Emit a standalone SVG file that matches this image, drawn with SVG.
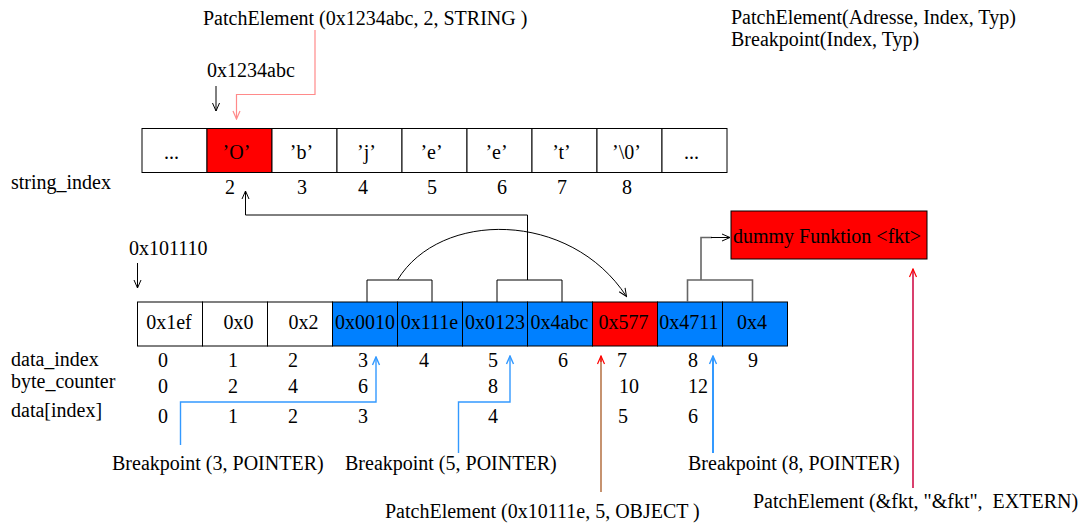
<svg xmlns="http://www.w3.org/2000/svg" width="1085" height="524" viewBox="0 0 1085 524">
  <style>
    text { font-family: "Liberation Serif", "Times New Roman", serif; font-size: 20px; fill: #000; white-space: pre; }
    .c { text-anchor: middle; }
    .cell { stroke: #000; stroke-width: 1; }
    .scell { stroke: #333; stroke-width: 1.3; }
    .wht { fill: #fff; }
    .blue { fill: #0080ff; }
    .red { fill: #ff0000; }
    .ln { fill: none; stroke: #000; stroke-width: 1; }
    .grey { fill: none; stroke: #666; stroke-width: 1.6; }
    .pink { fill: none; stroke: #ff8a8a; stroke-width: 1.2; }
    .bl { fill: none; stroke: #3399ff; stroke-width: 1.4; }
    .bl2 { fill: none; stroke: #3399ff; stroke-width: 2; }
    .brn { fill: none; stroke: #a04a10; stroke-width: 1.2; }
    .crim { fill: none; stroke: #d0104a; stroke-width: 1.6; }
  </style>
  <defs>
    <marker id="ahBlack" viewBox="-10 -5 11 10" refX="0" refY="0" markerWidth="11" markerHeight="10" markerUnits="userSpaceOnUse" orient="auto">
      <path d="M-8,-3.5 L0,0 L-8,3.5" fill="none" stroke="#000" stroke-width="1"/>
    </marker>
    <marker id="ahPink" viewBox="-10 -5 11 10" refX="0" refY="0" markerWidth="11" markerHeight="10" markerUnits="userSpaceOnUse" orient="auto">
      <path d="M-8,-3.5 L0,0 L-8,3.5" fill="none" stroke="#ff8a8a" stroke-width="1.2"/>
    </marker>
    <marker id="ahBlue" viewBox="-10 -5 11 10" refX="0" refY="0" markerWidth="11" markerHeight="10" markerUnits="userSpaceOnUse" orient="auto">
      <path d="M-8,-3.5 L0,0 L-8,3.5" fill="none" stroke="#3399ff" stroke-width="1.4"/>
    </marker>
    <marker id="ahRed" viewBox="-10 -5 11 10" refX="0" refY="0" markerWidth="11" markerHeight="10" markerUnits="userSpaceOnUse" orient="auto">
      <path d="M-8,-3.5 L0,0 L-8,3.5" fill="none" stroke="#ff0000" stroke-width="1.2"/>
    </marker>
  </defs>

  <!-- legend -->
  <g id="legend">
    <text x="731" y="24">PatchElement(Adresse, Index, Typ)</text>
    <text x="731" y="46">Breakpoint(Index, Typ)</text>
  </g>

  <!-- string table -->
  <g id="string-row">
    <g id="s0"><rect class="cell wht" x="142" y="128.5" width="65" height="44"/><text class="c" x="171.5" y="159">...</text></g>
    <g id="s1"><rect class="cell red" x="207" y="128.5" width="65" height="44"/><text class="c" x="236.5" y="159">’O’</text></g>
    <g id="s2"><rect class="cell wht" x="272" y="128.5" width="65" height="44"/><text class="c" x="301.5" y="159">’b’</text></g>
    <g id="s3"><rect class="cell wht" x="337" y="128.5" width="65" height="44"/><text class="c" x="366.5" y="159">’j’</text></g>
    <g id="s4"><rect class="cell wht" x="402" y="128.5" width="65" height="44"/><text class="c" x="431.5" y="159">’e’</text></g>
    <g id="s5"><rect class="cell wht" x="467" y="128.5" width="65" height="44"/><text class="c" x="496.5" y="159">’e’</text></g>
    <g id="s6"><rect class="cell wht" x="532" y="128.5" width="65" height="44"/><text class="c" x="561.5" y="159">’t’</text></g>
    <g id="s7"><rect class="cell wht" x="597" y="128.5" width="65" height="44"/><text class="c" x="626.5" y="159">’\0’</text></g>
    <g id="s8"><rect class="cell wht" x="662" y="128.5" width="65" height="44"/><text class="c" x="691.5" y="159">...</text></g>
  </g>
  <g id="string-index">
    <text x="11" y="189">string_index</text>
    <text class="c" x="230" y="194">2</text>
    <text class="c" x="302" y="194">3</text>
    <text class="c" x="363" y="194">4</text>
    <text class="c" x="432" y="194">5</text>
    <text class="c" x="502" y="194">6</text>
    <text class="c" x="562" y="194">7</text>
    <text class="c" x="627" y="194">8</text>
  </g>

  <!-- data table -->
  <g id="data-row">
    <g id="d0"><rect class="cell wht" x="137.5" y="302" width="65" height="44"/><text class="c" x="169" y="329">0x1ef</text></g>
    <g id="d1"><rect class="cell wht" x="202.5" y="302" width="65" height="44"/><text class="c" x="238.5" y="329">0x0</text></g>
    <g id="d2"><rect class="cell wht" x="267.5" y="302" width="65" height="44"/><text class="c" x="303.5" y="329">0x2</text></g>
    <g id="d3"><rect class="cell blue" x="332.5" y="302" width="65" height="44"/><text class="c" x="365" y="329">0x0010</text></g>
    <g id="d4"><rect class="cell blue" x="397.5" y="302" width="65" height="44"/><text class="c" x="429.5" y="329">0x111e</text></g>
    <g id="d5"><rect class="cell blue" x="462.5" y="302" width="65" height="44"/><text class="c" x="495" y="329">0x0123</text></g>
    <g id="d6"><rect class="cell blue" x="527.5" y="302" width="65" height="44"/><text class="c" x="559.5" y="329">0x4abc</text></g>
    <g id="d7"><rect class="cell red" x="592.5" y="302" width="65" height="44"/><text class="c" x="623.5" y="329">0x577</text></g>
    <g id="d8"><rect class="cell blue" x="657.5" y="302" width="65" height="44"/><text class="c" x="689" y="329">0x4711</text></g>
    <g id="d9"><rect class="cell blue" x="722.5" y="302" width="65" height="44"/><text class="c" x="752" y="329">0x4</text></g>
  </g>

  <g id="dummy">
    <rect class="cell red" x="731" y="211" width="196" height="48"/>
    <text x="733" y="243">dummy Funktion &lt;fkt&gt;</text>
  </g>

  <!-- row captions and values -->
  <g id="tables">
    <text x="11" y="366">data_index</text>
    <text x="11" y="388">byte_counter</text>
    <text x="11" y="417">data[index]</text>

    <text class="c" x="163" y="367">0</text>
    <text class="c" x="233" y="367">1</text>
    <text class="c" x="293" y="367">2</text>
    <text class="c" x="363" y="367">3</text>
    <text class="c" x="424" y="367">4</text>
    <text class="c" x="493" y="367">5</text>
    <text class="c" x="563" y="367">6</text>
    <text class="c" x="622" y="367">7</text>
    <text class="c" x="693" y="367">8</text>
    <text class="c" x="753" y="367">9</text>

    <text class="c" x="163" y="393">0</text>
    <text class="c" x="233" y="393">2</text>
    <text class="c" x="293" y="393">4</text>
    <text class="c" x="363" y="393">6</text>
    <text class="c" x="493" y="393">8</text>
    <text class="c" x="629" y="393">10</text>
    <text class="c" x="698" y="393">12</text>

    <text class="c" x="163" y="423">0</text>
    <text class="c" x="233" y="423">1</text>
    <text class="c" x="293" y="423">2</text>
    <text class="c" x="363" y="423">3</text>
    <text class="c" x="493" y="423">4</text>
    <text class="c" x="623" y="423">5</text>
    <text class="c" x="693" y="423">6</text>
  </g>

  <!-- address and call labels -->
  <g id="labels">
    <text x="203" y="25">PatchElement (0x1234abc, 2, STRING )</text>
    <text x="207" y="77">0x1234abc</text>
    <text x="129" y="255">0x101110</text>
    <text x="112" y="470">Breakpoint (3, POINTER)</text>
    <text x="345" y="470">Breakpoint (5, POINTER)</text>
    <text x="688" y="470">Breakpoint (8, POINTER)</text>
    <text x="385" y="518">PatchElement (0x10111e, 5, OBJECT )</text>
    <text x="753" y="508">PatchElement (&amp;fkt, "&amp;fkt",  EXTERN)</text>
  </g>

  <!-- connectors -->
  <g id="connectors">
    <line class="ln" x1="216" y1="86" x2="216" y2="111" marker-end="url(#ahBlack)"/>
    <path class="pink" d="M315,30 V94.5 H236.5 V119" marker-end="url(#ahPink)"/>
    <line class="ln" x1="137.5" y1="263" x2="137.5" y2="288" marker-end="url(#ahBlack)"/>

    <!-- pointer pairs -->
    <path class="ln" d="M367,302 V280 H432 V302"/>
    <path class="ln" d="M497,302 V280 H562 V302"/>
    <path class="grey" d="M687.5,302 V280 H752.5 V302"/>

    <path class="ln" d="M527.5,280 V215 H245.5 V191" marker-end="url(#ahBlack)"/>
    <path class="ln" d="M397.5,280 C440,210 570,210 626.5,296.5" marker-end="url(#ahBlack)"/>
    <path class="grey" d="M701,280 V237.5 H712"/>
    <path class="ln" d="M711,237.5 H730" marker-end="url(#ahBlack)"/>

    <!-- breakpoints -->
    <path class="bl" d="M180.5,445 V402 H376 V357" marker-end="url(#ahBlue)"/>
    <path class="bl" d="M458.5,453 V402 H510 V356" marker-end="url(#ahBlue)"/>
    <path class="bl2" d="M713,453 V356" marker-end="url(#ahBlue)"/>

    <!-- patch elements -->
    <path class="brn" d="M601,492 V357"/>
    <path d="M601,362 V356" fill="none" stroke="#ff0000" stroke-width="1.2" marker-end="url(#ahRed)"/>
    <path class="crim" d="M913,488 V269" marker-end="url(#ahRed)"/>
  </g>
</svg>
